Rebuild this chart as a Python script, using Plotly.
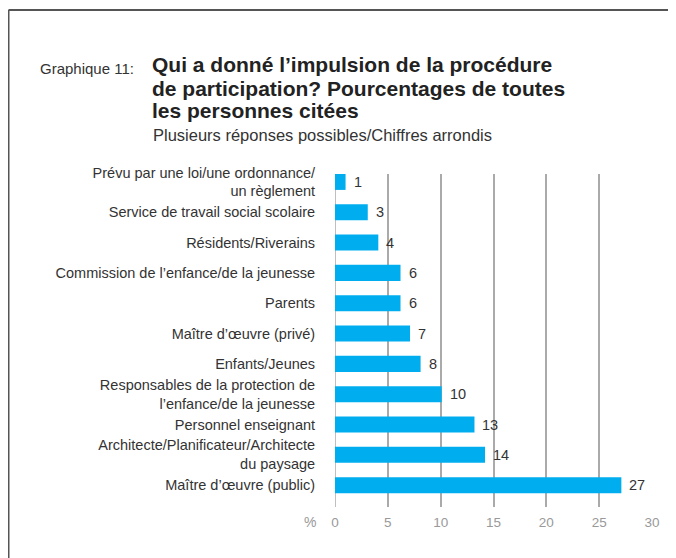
import plotly.graph_objects as go

# data (top to bottom)
categories = [
    "Prévu par une loi/une ordonnance/<br>un règlement",
    "Service de travail social scolaire",
    "Résidents/Riverains",
    "Commission de l’enfance/de la jeunesse",
    "Parents",
    "Maître d’œuvre (privé)",
    "Enfants/Jeunes",
    "Responsables de la protection de<br>l’enfance/de la jeunesse",
    "Personnel enseignant",
    "Architecte/Planificateur/Architecte<br>du paysage",
    "Maître d’œuvre (public)",
]
values = [1.0, 3.1, 4.1, 6.2, 6.2, 7.1, 8.1, 10.1, 13.2, 14.2, 27.1]
labels = ["1", "3", "4", "6", "6", "7", "8", "10", "13", "14", "27"]
xticks = [0, 5, 10, 15, 20, 25, 30]

# page has an 8px body margin, so the figure is a bit smaller than the window
OFF = 8
W, H = 668, 550
L, R, T, B = 327, 24, 166, 51
FONT = "Liberation Sans"


def px(x):
    # page pixel -> paper x
    return (x - OFF - L) / (W - L - R)


def py(y):
    # page pixel -> paper y
    return (H - B - (y - OFF)) / (H - T - B)


fig = go.Figure()
fig.add_trace(go.Bar(
    x=values, y=categories, orientation="h",
    marker=dict(color="#00AEEF", line=dict(width=0)),
    hoverinfo="skip",
))

ann = []
for v, c, t in zip(values, categories, labels):
    ann.append(dict(x=v, y=c, text=t, xref="x", yref="y", showarrow=False,
                    xanchor="left", xshift=6,
                    font=dict(family=FONT, size=14.5, color="#333333")))

# headings
ann.append(dict(x=px(38), y=py(68), xref="paper", yref="paper", text="Graphique 11:",
                showarrow=False, xanchor="left", yanchor="middle",
                font=dict(family=FONT, size=15, color="#333333")))
for i, line in enumerate(["Qui a donné l’impulsion de la procédure",
                          "de participation? Pourcentages de toutes",
                          "les personnes citées"]):
    ann.append(dict(x=px(150), y=py(65 + 23 * i), xref="paper", yref="paper",
                    text="<b>" + line + "</b>", showarrow=False,
                    xanchor="left", yanchor="middle",
                    font=dict(family=FONT, size=21, color="#222222")))
ann.append(dict(x=px(151), y=py(135), xref="paper", yref="paper",
                text="Plusieurs réponses possibles/Chiffres arrondis",
                showarrow=False, xanchor="left", yanchor="middle",
                font=dict(family=FONT, size=16.5, color="#333333")))
ann.append(dict(x=px(310), y=py(522), xref="paper", yref="paper", text="%",
                showarrow=False, xanchor="center", yanchor="middle",
                font=dict(family=FONT, size=14, color="#999999")))

# frame lines top and left
shapes = [
    dict(type="line", xref="paper", yref="paper", x0=px(8.5), x1=px(700),
         y0=py(10), y1=py(10), line=dict(color="#555555", width=2)),
    dict(type="line", xref="paper", yref="paper", x0=px(8.5), x1=px(8.5),
         y0=py(10), y1=py(600), line=dict(color="#555555", width=2)),
]

fig.update_layout(
    width=W, height=H,
    margin=dict(l=L, r=R, t=T, b=B),
    paper_bgcolor="white", plot_bgcolor="white",
    showlegend=False, bargap=0.47,
    annotations=ann, shapes=shapes,
    font=dict(family=FONT),
    xaxis=dict(range=[0, 30], tickvals=xticks, showgrid=True,
               gridcolor="#aaaaaa", gridwidth=1.5, zeroline=False,
               showline=False, ticks="outside", ticklen=3, tickcolor="rgba(0,0,0,0)",
               tickfont=dict(family=FONT, size=13.5, color="#999999")),
    yaxis=dict(categoryorder="array", categoryarray=categories,
               range=[10.72, -0.26], showgrid=False, zeroline=False,
               showline=False, ticks="outside", ticklen=16, tickcolor="rgba(0,0,0,0)",
               tickfont=dict(family=FONT, size=14.5, color="#333333")),
)
# line at zero like the other grid lines
fig.add_vline(x=0, line=dict(color="#aaaaaa", width=1.5), layer="below")

fig.write_html("out.html")
